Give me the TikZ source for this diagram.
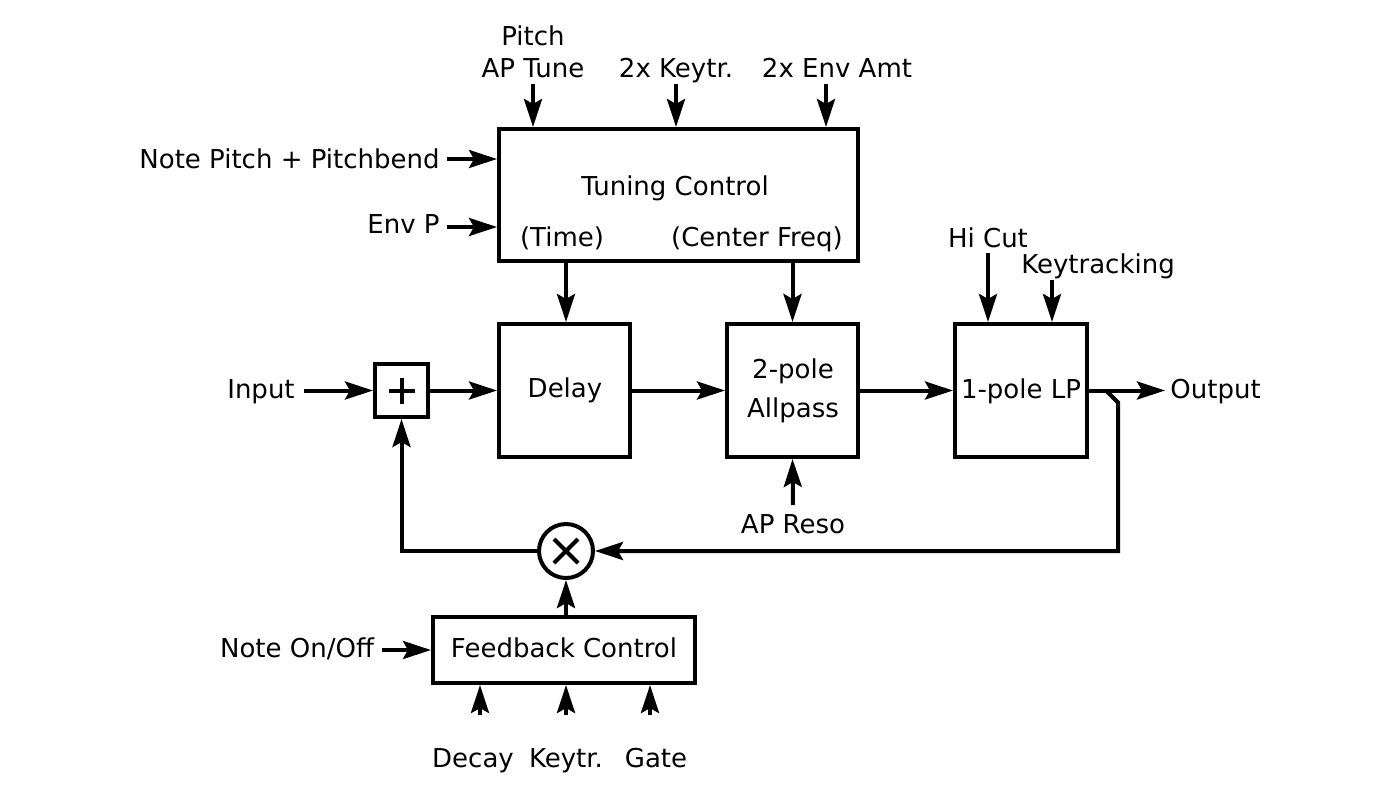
\documentclass[tikz,border=0pt]{standalone}
\usepackage{fontspec}
\setmainfont{DejaVu Sans}
\usetikzlibrary{arrows.meta}
\begin{document}
\begin{tikzpicture}[x=0.5pt,y=-0.5pt,
 every node/.style={font=\fontsize{13}{15}\selectfont},
 blk/.style={draw, line width=2pt, inner sep=0pt},
 lbl/.style={inner sep=0pt, anchor=base},
 arr/.style={line width=2pt, -{Stealth[length=14pt,width=9pt,inset=2.5pt]}},
 ln/.style={line width=2pt}]
\useasboundingbox (0,0) rectangle (1400,798);
% blocks
\node[blk, minimum width=179.5pt, minimum height=66pt] (tun) at (678.5,195) {};
\node[lbl] (tunt) at (675,195.5) {Tuning Control};
\node[lbl] (time) at (562,246.5) {(Time)};
\node[lbl] (cf) at (757,246.5) {(Center Freq)};
\node[blk, minimum width=65.5pt, minimum height=66.5pt] (del) at (564.5,390.5) {};
\node[lbl] (delt) at (565,397.5) {Delay};
\node[blk, minimum width=65.5pt, minimum height=66.5pt] (ap) at (792.5,390.5) {};
\node[lbl] (apt1) at (793,378.5) {2-pole};
\node[lbl] (apt2) at (793,417.5) {Allpass};
\node[blk, minimum width=66pt, minimum height=66.5pt] (lp) at (1021,390.5) {};
\node[lbl] (lpt) at (1021,398.5) {1-pole LP};
\node[blk, minimum size=26.5pt] (plus) at (401.5,390.5) {};
\node[blk, circle, minimum size=27pt] (mul) at (566,551) {};
\node[blk, minimum width=131pt, minimum height=33pt] (fb) at (564,650) {};
\node[lbl] (fbt) at (564,657.5) {Feedback Control};
% symbols
\draw[ln] ([xshift=-6.5pt]plus.center) -- ([xshift=6.5pt]plus.center);
\draw[ln] ([yshift=-6.5pt]plus.center) -- ([yshift=6.5pt]plus.center);
\draw[ln] ([shift={(-6pt,-6pt)}]mul.center) -- ([shift={(6pt,6pt)}]mul.center);
\draw[ln] ([shift={(-6pt,6pt)}]mul.center) -- ([shift={(6pt,-6pt)}]mul.center);
% labels
\node[lbl] (pitch) at (533,45.5) {Pitch};
\node[lbl] (aptune) at (533,77.5) {AP Tune};
\node[lbl] (kt2) at (676,77.5) {2x Keytr.};
\node[lbl] (env2) at (837,77.5) {2x Env Amt};
\node[lbl, anchor=base east] (np) at (440,168.5) {Note Pitch + Pitchbend};
\node[lbl, anchor=base east] (envp) at (440,233.5) {Env P};
\node[lbl] (inp) at (261,398) {Input};
\node[lbl, anchor=base west] (out) at (1170,398) {Output};
\node[lbl] (hicut) at (988,247.5) {Hi Cut};
\node[lbl] (keytrk) at (1098,273.5) {Keytracking};
\node[lbl] (apreso) at (793,533.5) {AP Reso};
\node[lbl] (noteon) at (297,657.5) {Note On/Off};
\node[lbl] (decay) at (473,767.5) {Decay};
\node[lbl] (kt) at (566,767.5) {Keytr.};
\node[lbl] (gate) at (656,767.5) {Gate};
% free ends
\coordinate (a1) at (533,84);
\coordinate (a2) at (676,84);
\coordinate (a3) at (826,84);
\coordinate (c1) at (447,159);
\coordinate (c2) at (447,227);
\coordinate (ci) at (304,390.5);
\coordinate (co) at (1165,390.5);
\coordinate (t1) at (1106,390.5);
\coordinate (h1) at (988,253);
\coordinate (k1) at (1052,280);
\coordinate (r1) at (793,505);
\coordinate (n1) at (382,650);
\coordinate (d1) at (480,715);
\coordinate (d2) at (566,715);
\coordinate (d3) at (650,715);
% connectors
\draw[arr] (a1) -- (a1 |- tun.north);
\draw[arr] (a2) -- (a2 |- tun.north);
\draw[arr] (a3) -- (a3 |- tun.north);
\draw[arr] (c1) -- (c1 -| tun.west);
\draw[arr] (c2) -- (c2 -| tun.west);
\draw[arr] (566,0 |- tun.south) -- (566,0 |- del.north);
\draw[arr] (ap.north |- tun.south) -- (ap.north);
\draw[arr] (ci) -- (plus.west);
\draw[arr] (plus.east) -- (del.west);
\draw[arr] (del.east) -- (ap.west);
\draw[arr] (ap.east) -- (lp.west);
\draw[arr] (lp.east) -- (co);
\draw[arr] (t1) -- ++(12,12) |- (mul.east);
\draw[arr] (mul.west) -| (plus.south);
\draw[arr] (mul.south |- fb.north) -- (mul.south);
\draw[arr] (h1) -- (h1 |- lp.north);
\draw[arr] (k1) -- (k1 |- lp.north);
\draw[arr] (r1) -- (ap.south);
\draw[arr] (n1) -- (fb.west);
\draw[arr] (d1) -- (d1 |- fb.south);
\draw[arr] (d2) -- (d2 |- fb.south);
\draw[arr] (d3) -- (d3 |- fb.south);
\end{tikzpicture}
\end{document}
